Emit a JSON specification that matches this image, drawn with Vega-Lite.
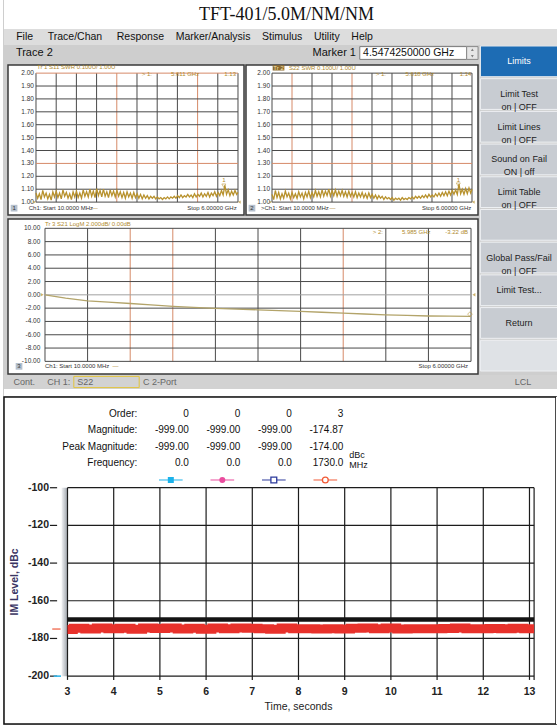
{
"$schema":"https://vega.github.io/schema/vega-lite/v6.json",
"background":"#cecece",
"padding":0,
"spacing":0,
"bounds":"full",
"resolve":{"scale":{"color":"independent","fill":"independent","stroke":"independent","shape":"independent","size":"independent"}},
"config":{"view":{"stroke":null},"font":"Liberation Sans","text":{"font":"Liberation Sans"},"axis":{"labelFont":"Liberation Sans","titleFont":"Liberation Sans"}},
"datasets":{
"swr1":[{"f":0.01,"v":1.07},{"f":0.06,"v":1.03},{"f":0.11,"v":1.065},{"f":0.16,"v":1.02},{"f":0.21,"v":1.09},{"f":0.26,"v":1.04},{"f":0.31,"v":1.07},{"f":0.36,"v":1.025},{"f":0.41,"v":1.06},{"f":0.46,"v":1.015},{"f":0.51,"v":1.08},{"f":0.56,"v":1.04},{"f":0.61,"v":1.085},{"f":0.66,"v":1.035},{"f":0.71,"v":1.07},{"f":0.76,"v":1.025},{"f":0.81,"v":1.095},{"f":0.86,"v":1.045},{"f":0.91,"v":1.075},{"f":0.96,"v":1.03},{"f":1.01,"v":1.065},{"f":1.06,"v":1.02},{"f":1.11,"v":1.08},{"f":1.16,"v":1.04},{"f":1.21,"v":1.085},{"f":1.26,"v":1.035},{"f":1.31,"v":1.07},{"f":1.36,"v":1.03},{"f":1.41,"v":1.095},{"f":1.46,"v":1.045},{"f":1.51,"v":1.08},{"f":1.56,"v":1.04},{"f":1.61,"v":1.1},{"f":1.66,"v":1.045},{"f":1.71,"v":1.085},{"f":1.76,"v":1.035},{"f":1.81,"v":1.105},{"f":1.86,"v":1.05},{"f":1.91,"v":1.09},{"f":1.96,"v":1.04},{"f":2.01,"v":1.1},{"f":2.06,"v":1.045},{"f":2.11,"v":1.08},{"f":2.16,"v":1.035},{"f":2.21,"v":1.095},{"f":2.26,"v":1.05},{"f":2.31,"v":1.085},{"f":2.36,"v":1.04},{"f":2.41,"v":1.09},{"f":2.46,"v":1.045},{"f":2.51,"v":1.08},{"f":2.56,"v":1.035},{"f":2.61,"v":1.075},{"f":2.66,"v":1.03},{"f":2.71,"v":1.08},{"f":2.76,"v":1.04},{"f":2.81,"v":1.07},{"f":2.86,"v":1.03},{"f":2.91,"v":1.075},{"f":2.96,"v":1.035},{"f":3.01,"v":1.065},{"f":3.06,"v":1.03},{"f":3.11,"v":1.06},{"f":3.16,"v":1.025},{"f":3.21,"v":1.055},{"f":3.26,"v":1.03},{"f":3.31,"v":1.05},{"f":3.36,"v":1.025},{"f":3.41,"v":1.045},{"f":3.46,"v":1.03},{"f":3.51,"v":1.045},{"f":3.56,"v":1.025},{"f":3.61,"v":1.04},{"f":3.66,"v":1.025},{"f":3.71,"v":1.035},{"f":3.76,"v":1.02},{"f":3.81,"v":1.035},{"f":3.86,"v":1.025},{"f":3.91,"v":1.04},{"f":3.96,"v":1.025},{"f":4.01,"v":1.04},{"f":4.06,"v":1.03},{"f":4.11,"v":1.045},{"f":4.16,"v":1.03},{"f":4.21,"v":1.05},{"f":4.26,"v":1.035},{"f":4.31,"v":1.055},{"f":4.36,"v":1.035},{"f":4.41,"v":1.05},{"f":4.46,"v":1.04},{"f":4.51,"v":1.06},{"f":4.56,"v":1.04},{"f":4.61,"v":1.055},{"f":4.66,"v":1.035},{"f":4.71,"v":1.065},{"f":4.76,"v":1.04},{"f":4.81,"v":1.06},{"f":4.86,"v":1.045},{"f":4.91,"v":1.07},{"f":4.96,"v":1.04},{"f":5.01,"v":1.065},{"f":5.06,"v":1.045},{"f":5.11,"v":1.075},{"f":5.16,"v":1.04},{"f":5.21,"v":1.07},{"f":5.26,"v":1.05},{"f":5.31,"v":1.08},{"f":5.36,"v":1.045},{"f":5.41,"v":1.075},{"f":5.46,"v":1.05},{"f":5.51,"v":1.09},{"f":5.56,"v":1.055},{"f":5.61,"v":1.13},{"f":5.66,"v":1.06},{"f":5.71,"v":1.095},{"f":5.76,"v":1.05},{"f":5.81,"v":1.085},{"f":5.86,"v":1.055},{"f":5.91,"v":1.09},{"f":5.96,"v":1.06},{"f":6.0,"v":1.075}],
"swr2":[{"f":0.01,"v":1.06},{"f":0.06,"v":1.02},{"f":0.11,"v":1.09},{"f":0.16,"v":1.035},{"f":0.21,"v":1.075},{"f":0.26,"v":1.025},{"f":0.31,"v":1.065},{"f":0.36,"v":1.03},{"f":0.41,"v":1.085},{"f":0.46,"v":1.04},{"f":0.51,"v":1.07},{"f":0.56,"v":1.025},{"f":0.61,"v":1.075},{"f":0.66,"v":1.035},{"f":0.71,"v":1.065},{"f":0.76,"v":1.03},{"f":0.81,"v":1.08},{"f":0.86,"v":1.04},{"f":0.91,"v":1.07},{"f":0.96,"v":1.025},{"f":1.01,"v":1.075},{"f":1.06,"v":1.04},{"f":1.11,"v":1.085},{"f":1.16,"v":1.035},{"f":1.21,"v":1.075},{"f":1.26,"v":1.04},{"f":1.31,"v":1.09},{"f":1.36,"v":1.045},{"f":1.41,"v":1.08},{"f":1.46,"v":1.04},{"f":1.51,"v":1.095},{"f":1.56,"v":1.045},{"f":1.61,"v":1.085},{"f":1.66,"v":1.05},{"f":1.71,"v":1.1},{"f":1.76,"v":1.045},{"f":1.81,"v":1.09},{"f":1.86,"v":1.05},{"f":1.91,"v":1.095},{"f":1.96,"v":1.045},{"f":2.01,"v":1.085},{"f":2.06,"v":1.05},{"f":2.11,"v":1.09},{"f":2.16,"v":1.045},{"f":2.21,"v":1.08},{"f":2.26,"v":1.04},{"f":2.31,"v":1.085},{"f":2.36,"v":1.045},{"f":2.41,"v":1.075},{"f":2.46,"v":1.04},{"f":2.51,"v":1.08},{"f":2.56,"v":1.035},{"f":2.61,"v":1.07},{"f":2.66,"v":1.04},{"f":2.71,"v":1.075},{"f":2.76,"v":1.035},{"f":2.81,"v":1.065},{"f":2.86,"v":1.03},{"f":2.91,"v":1.07},{"f":2.96,"v":1.035},{"f":3.01,"v":1.06},{"f":3.06,"v":1.03},{"f":3.11,"v":1.055},{"f":3.16,"v":1.025},{"f":3.21,"v":1.05},{"f":3.26,"v":1.03},{"f":3.31,"v":1.045},{"f":3.36,"v":1.02},{"f":3.41,"v":1.04},{"f":3.46,"v":1.025},{"f":3.51,"v":1.035},{"f":3.56,"v":1.02},{"f":3.61,"v":1.035},{"f":3.66,"v":1.015},{"f":3.71,"v":1.03},{"f":3.76,"v":1.02},{"f":3.81,"v":1.03},{"f":3.86,"v":1.015},{"f":3.91,"v":1.035},{"f":3.96,"v":1.02},{"f":4.01,"v":1.03},{"f":4.06,"v":1.02},{"f":4.11,"v":1.035},{"f":4.16,"v":1.025},{"f":4.21,"v":1.04},{"f":4.26,"v":1.025},{"f":4.31,"v":1.045},{"f":4.36,"v":1.03},{"f":4.41,"v":1.045},{"f":4.46,"v":1.03},{"f":4.51,"v":1.05},{"f":4.56,"v":1.035},{"f":4.61,"v":1.055},{"f":4.66,"v":1.035},{"f":4.71,"v":1.06},{"f":4.76,"v":1.04},{"f":4.81,"v":1.055},{"f":4.86,"v":1.04},{"f":4.91,"v":1.065},{"f":4.96,"v":1.045},{"f":5.01,"v":1.07},{"f":5.06,"v":1.045},{"f":5.11,"v":1.075},{"f":5.16,"v":1.05},{"f":5.21,"v":1.08},{"f":5.26,"v":1.05},{"f":5.31,"v":1.085},{"f":5.36,"v":1.055},{"f":5.41,"v":1.09},{"f":5.46,"v":1.06},{"f":5.51,"v":1.095},{"f":5.56,"v":1.06},{"f":5.61,"v":1.14},{"f":5.66,"v":1.065},{"f":5.71,"v":1.1},{"f":5.76,"v":1.06},{"f":5.81,"v":1.105},{"f":5.86,"v":1.065},{"f":5.91,"v":1.11},{"f":5.96,"v":1.07},{"f":6.0,"v":1.1}],
"s21":[{"f":0.01,"v":0},{"f":0.3,"v":-0.5},{"f":0.61,"v":-0.9},{"f":0.9,"v":-1.1},{"f":1.21,"v":-1.3},{"f":1.5,"v":-1.5},{"f":1.81,"v":-1.72},{"f":2.1,"v":-1.9},{"f":2.41,"v":-2.05},{"f":2.7,"v":-2.15},{"f":3.0,"v":-2.25},{"f":3.3,"v":-2.38},{"f":3.6,"v":-2.5},{"f":3.9,"v":-2.62},{"f":4.2,"v":-2.75},{"f":4.5,"v":-2.88},{"f":4.8,"v":-3.0},{"f":5.1,"v":-3.1},{"f":5.4,"v":-3.18},{"f":5.7,"v":-3.2},{"f":6.0,"v":-3.25}],
"pim":[{"t":3.0,"v":-175.2},{"t":3.25,"v":-174.6},{"t":3.5,"v":-175.0},{"t":3.75,"v":-174.4},{"t":4.0,"v":-174.8},{"t":4.25,"v":-174.6},{"t":4.5,"v":-175.1},{"t":4.75,"v":-174.5},{"t":5.0,"v":-174.7},{"t":5.25,"v":-174.4},{"t":5.5,"v":-175.0},{"t":5.75,"v":-174.6},{"t":6.0,"v":-175.1},{"t":6.25,"v":-174.5},{"t":6.5,"v":-174.9},{"t":6.75,"v":-174.4},{"t":7.0,"v":-174.6},{"t":7.25,"v":-174.9},{"t":7.5,"v":-175.1},{"t":7.75,"v":-174.4},{"t":8.0,"v":-174.8},{"t":8.25,"v":-174.9},{"t":8.5,"v":-175.0},{"t":8.75,"v":-174.9},{"t":9.0,"v":-175.0},{"t":9.25,"v":-174.6},{"t":9.5,"v":-174.5},{"t":9.75,"v":-174.9},{"t":10.0,"v":-174.4},{"t":10.25,"v":-175.0},{"t":10.5,"v":-174.8},{"t":10.75,"v":-174.9},{"t":11.0,"v":-174.8},{"t":11.25,"v":-174.7},{"t":11.5,"v":-174.4},{"t":11.75,"v":-174.8},{"t":12.0,"v":-174.9},{"t":12.25,"v":-174.7},{"t":12.5,"v":-174.8},{"t":12.75,"v":-174.6},{"t":13.0,"v":-174.8},{"t":13.1,"v":-174.8}],
"swrH1":[{"v":1.0,"g":"d","lab":"1.00"},{"v":1.1,"g":"d","lab":"1.10"},{"v":1.2,"g":"d","lab":"1.20"},{"v":1.3,"g":"s","lab":"1.30"},{"v":1.4,"g":"d","lab":"1.40"},{"v":1.5,"g":"d","lab":"1.50"},{"v":1.6,"g":"d","lab":"1.60"},{"v":1.7,"g":"d","lab":"1.70"},{"v":1.8,"g":"d","lab":"1.80"},{"v":1.9,"g":"d","lab":"1.90"},{"v":2.0,"g":"s","lab":"2.00"}],
"swrH2":[{"v":1.0,"g":"d","lab":"1.00"},{"v":1.1,"g":"d","lab":"1.10"},{"v":1.2,"g":"d","lab":"1.20"},{"v":1.3,"g":"s","lab":"1.30"},{"v":1.4,"g":"d","lab":"1.40"},{"v":1.5,"g":"d","lab":"1.50"},{"v":1.6,"g":"d","lab":"1.60"},{"v":1.7,"g":"d","lab":"1.70"},{"v":1.8,"g":"d","lab":"1.80"},{"v":1.9,"g":"d","lab":"1.90"},{"v":2.0,"g":"d","lab":"2.00"}],
"s21H":[{"v":-10,"g":"d","lab":"-10.00"},{"v":-8,"g":"d","lab":"-8.00"},{"v":-6,"g":"d","lab":"-6.00"},{"v":-4,"g":"d","lab":"-4.00"},{"v":-2,"g":"d","lab":"-2.00"},{"v":0,"g":"z","lab":"0.00"},{"v":2,"g":"d","lab":"2.00"},{"v":4,"g":"d","lab":"4.00"},{"v":6,"g":"d","lab":"6.00"},{"v":8,"g":"d","lab":"8.00"},{"v":10,"g":"d","lab":"10.00"}],
"pimH":[{"v":-100,"lab":"-100"},{"v":-120,"lab":"-120"},{"v":-140,"lab":"-140"},{"v":-160,"lab":"-160"},{"v":-180,"lab":"-180"},{"v":-200,"lab":"-200"}],
"pimV":[{"t":3,"lab":"3"},{"t":4,"lab":"4"},{"t":5,"lab":"5"},{"t":6,"lab":"6"},{"t":7,"lab":"7"},{"t":8,"lab":"8"},{"t":9,"lab":"9"},{"t":10,"lab":"10"},{"t":11,"lab":"11"},{"t":12,"lab":"12"},{"t":13,"lab":"13"},{"t":13.1,"lab":""}]
},
"hconcat":[
{"width":3,"height":725,"view":{"fill":"white"},"data":{"values":[{}]},"mark":{"type":"point","opacity":0,"size":0,"strokeWidth":0},"encoding":{}},
{"spacing":0,"bounds":"full","resolve":{"scale":{"color":"independent","fill":"independent","stroke":"independent","shape":"independent","size":"independent"}},"vconcat":[
 {"width":554,"height":29,"view":{"fill":"white"},"data":{"values":[{"t":"TFT-401/5.0M/NM/NM"}]},"mark":{"type":"text","font":"Liberation Serif","fontSize":18,"color":"#111","baseline":"middle"},"encoding":{"text":{"field":"t","type":"nominal"},"x":{"datum":51,"type":"quantitative","scale":{"domain":[0,100],"nice":false,"zero":false},"axis":null}}},
 {"width":554,"height":16,"view":{"fill":"#dddddd"},"data":{"values":[{}]},"mark":{"type":"text","align":"left","baseline":"middle","fontSize":10.5,"color":"#111"},"encoding":{"text":{"value":"File\u00a0\u00a0\u00a0\u00a0\u00a0Trace/Chan\u00a0\u00a0\u00a0\u00a0\u00a0Response\u00a0\u00a0\u00a0\u00a0Marker/Analysis\u00a0\u00a0\u00a0\u00a0Stimulus\u00a0\u00a0\u00a0\u00a0Utility\u00a0\u00a0\u00a0\u00a0Help"},"x":{"datum":2.2,"type":"quantitative","scale":{"domain":[0,100],"nice":false,"zero":false},"axis":null}}},
 {"spacing":0,"bounds":"full","resolve":{"scale":{"color":"independent","fill":"independent","stroke":"independent","shape":"independent","size":"independent"}},"hconcat":[
  {"spacing":2,"bounds":"full","vconcat":[
   {"width":475,"height":16,"data":{"values":[{}]},"layer":[
    {"mark":{"type":"rect","fill":"white","stroke":"#7a7a7a","strokeWidth":1},"encoding":{"x":{"datum":74.9,"type":"quantitative","scale":{"domain":[0,100],"nice":false,"zero":false},"axis":null},"x2":{"datum":97.4},"y":{"datum":10,"type":"quantitative","scale":{"domain":[0,100],"nice":false,"zero":false},"axis":null},"y2":{"datum":90}}},
    {"mark":{"type":"rect","fill":"#e6e6e6","stroke":"#8a8a8a","strokeWidth":1},"encoding":{"x":{"datum":97.4,"type":"quantitative","axis":null},"x2":{"datum":99.8},"y":{"datum":10,"type":"quantitative","axis":null},"y2":{"datum":90}}},
    {"mark":{"type":"point","shape":"triangle-up","filled":true,"color":"#555","size":8},"encoding":{"x":{"datum":98.6,"type":"quantitative","axis":null},"y":{"datum":70,"type":"quantitative","axis":null}}},
    {"mark":{"type":"point","shape":"triangle-down","filled":true,"color":"#555","size":8},"encoding":{"x":{"datum":98.6,"type":"quantitative","axis":null},"y":{"datum":30,"type":"quantitative","axis":null}}},
    {"mark":{"type":"text","align":"left","baseline":"middle","fontSize":11,"color":"#111"},"encoding":{"x":{"datum":2.5,"type":"quantitative","axis":null},"y":{"datum":50,"type":"quantitative","axis":null},"text":{"value":"Trace 2"}}},
    {"mark":{"type":"text","align":"right","baseline":"middle","fontSize":11,"color":"#111"},"encoding":{"x":{"datum":74.1,"type":"quantitative","axis":null},"y":{"datum":50,"type":"quantitative","axis":null},"text":{"value":"Marker 1"}}},
    {"mark":{"type":"text","align":"left","baseline":"middle","fontSize":10.5,"color":"#111"},"encoding":{"x":{"datum":75.6,"type":"quantitative","axis":null},"y":{"datum":50,"type":"quantitative","axis":null},"text":{"value":"4.5474250000 GHz"}}}
   ]},
   {"spacing":2,"bounds":"flush","hconcat":[
    {"width":2,"height":150,"data":{"values":[{}]},"mark":{"type":"point","opacity":0,"size":0,"strokeWidth":0},"encoding":{}},
    {"width":236,"height":150,"view":{"fill":"white","stroke":"#3a3a3a","strokeWidth":1.5},"layer":[
     {"data":{"values":[{"f":0.01,"g":"d"},{"f":0.609,"g":"d"},{"f":1.208,"g":"d"},{"f":1.807,"g":"d"},{"f":2.406,"g":"s"},{"f":3.005,"g":"d"},{"f":3.604,"g":"d"},{"f":4.203,"g":"d"},{"f":4.802,"g":"s"},{"f":5.401,"g":"d"},{"f":6.0,"g":"d"}]},"mark":{"type":"rule","strokeWidth":1},"encoding":{"x":{"field":"f","type":"quantitative","scale":{"domain":[-0.82,6.178],"nice":false,"zero":false},"axis":null},"y":{"datum":1.0,"type":"quantitative","scale":{"domain":[0.9,2.063],"nice":false,"zero":false},"axis":null},"y2":{"datum":2.0},"color":{"field":"g","type":"nominal","scale":{"domain":["d","s","z"],"range":["#4a4a4a","#d68a68","#a0a0a0"]},"legend":null}}},
     {"data":{"name":"swrH1"},"mark":{"type":"rule","strokeWidth":1},"encoding":{"y":{"field":"v","type":"quantitative","axis":null},"x":{"datum":0.01,"type":"quantitative","axis":null},"x2":{"datum":6.0},"color":{"field":"g","type":"nominal","legend":null}}},
     {"data":{"name":"swrH1"},"mark":{"type":"text","align":"right","baseline":"middle","fontSize":6.5,"color":"#333"},"encoding":{"y":{"field":"v","type":"quantitative","axis":null},"x":{"datum":-0.05,"type":"quantitative","axis":null},"text":{"field":"lab","type":"nominal"}}},
     {"data":{"name":"swr1"},"mark":{"type":"line","color":"#b8922e","strokeWidth":1.3},"encoding":{"x":{"field":"f","type":"quantitative","axis":null},"y":{"field":"v","type":"quantitative","axis":null}}},
     {"data":{"values":[{"f":-0.03,"v":1.0}]},"mark":{"type":"point","shape":"triangle-right","filled":true,"color":"#b8922e","size":10},"encoding":{"x":{"field":"f","type":"quantitative","axis":null},"y":{"field":"v","type":"quantitative","axis":null}}},
     {"data":{"values":[{"f":6.04,"v":1.0}]},"mark":{"type":"point","shape":"triangle-left","filled":true,"color":"#b8922e","size":10},"encoding":{"x":{"field":"f","type":"quantitative","axis":null},"y":{"field":"v","type":"quantitative","axis":null}}},
     {"data":{"values":[{"f":5.58,"v":1.127}]},"mark":{"type":"point","shape":"triangle-down","filled":false,"color":"#b8922e","size":16,"strokeWidth":0.8},"encoding":{"x":{"field":"f","type":"quantitative","axis":null},"y":{"field":"v","type":"quantitative","axis":null}}},
     {"data":{"values":[{"f":-0.64,"v":0.953}]},"mark":{"type":"square","size":45,"color":"#b5c0cd","opacity":1},"encoding":{"x":{"field":"f","type":"quantitative","axis":null},"y":{"field":"v","type":"quantitative","axis":null}}},
     {"data":{"values":[{"f":0.04,"v":2.045,"txt":"Tr 1  S11 SWR 0.100U/ 1.00U"}]},"mark":{"type":"text","align":"left","baseline":"middle","fontSize":6,"color":"#b08a2e"},"encoding":{"x":{"field":"f","type":"quantitative","axis":null},"y":{"field":"v","type":"quantitative","axis":null},"text":{"field":"txt","type":"nominal"}}},
     {"data":{"values":[{"f":3.3,"v":1.99,"txt":"> 1:"},{"f":4.43,"v":1.99,"txt":"5.611 GHz"},{"f":5.58,"v":1.168,"txt":"1"},{"f":1.75,"v":0.953,"txt":"\u2014"}]},"mark":{"type":"text","align":"center","baseline":"middle","fontSize":6,"color":"#b08a2e"},"encoding":{"x":{"field":"f","type":"quantitative","axis":null},"y":{"field":"v","type":"quantitative","axis":null},"text":{"field":"txt","type":"nominal"}}},
     {"data":{"values":[{"f":5.94,"v":1.99,"txt":"1.13"}]},"mark":{"type":"text","align":"right","baseline":"middle","fontSize":6,"color":"#b08a2e"},"encoding":{"x":{"field":"f","type":"quantitative","axis":null},"y":{"field":"v","type":"quantitative","axis":null},"text":{"field":"txt","type":"nominal"}}},
     {"data":{"values":[{"f":-0.206,"v":0.953,"txt":"Ch1: Start  10.0000 MHz"}]},"mark":{"type":"text","align":"left","baseline":"middle","fontSize":6,"color":"#333"},"encoding":{"x":{"field":"f","type":"quantitative","axis":null},"y":{"field":"v","type":"quantitative","axis":null},"text":{"field":"txt","type":"nominal"}}},
     {"data":{"values":[{"f":-0.64,"v":0.953,"txt":"1"}]},"mark":{"type":"text","align":"center","baseline":"middle","fontSize":6,"color":"#333"},"encoding":{"x":{"field":"f","type":"quantitative","axis":null},"y":{"field":"v","type":"quantitative","axis":null},"text":{"field":"txt","type":"nominal"}}},
     {"data":{"values":[{"f":5.96,"v":0.953,"txt":"Stop  6.00000 GHz"}]},"mark":{"type":"text","align":"right","baseline":"middle","fontSize":6,"color":"#333"},"encoding":{"x":{"field":"f","type":"quantitative","axis":null},"y":{"field":"v","type":"quantitative","axis":null},"text":{"field":"txt","type":"nominal"}}}
    ]},
    {"width":232,"height":150,"view":{"fill":"white","stroke":"#3a3a3a","strokeWidth":1.5},"layer":[
     {"data":{"values":[{"f":0.01,"g":"d"},{"f":0.609,"g":"s"},{"f":1.208,"g":"d"},{"f":1.807,"g":"d"},{"f":2.406,"g":"s"},{"f":3.005,"g":"d"},{"f":3.604,"g":"d"},{"f":4.203,"g":"d"},{"f":4.802,"g":"d"},{"f":5.401,"g":"d"},{"f":6.0,"g":"d"}]},"mark":{"type":"rule","strokeWidth":1},"encoding":{"x":{"field":"f","type":"quantitative","scale":{"domain":[-0.769,6.18],"nice":false,"zero":false},"axis":null},"y":{"datum":1.0,"type":"quantitative","scale":{"domain":[0.9,2.063],"nice":false,"zero":false},"axis":null},"y2":{"datum":2.0},"color":{"field":"g","type":"nominal","scale":{"domain":["d","s","z"],"range":["#4a4a4a","#d68a68","#a0a0a0"]},"legend":null}}},
     {"data":{"name":"swrH2"},"mark":{"type":"rule","strokeWidth":1},"encoding":{"y":{"field":"v","type":"quantitative","axis":null},"x":{"datum":0.01,"type":"quantitative","axis":null},"x2":{"datum":6.0},"color":{"field":"g","type":"nominal","legend":null}}},
     {"data":{"name":"swrH2"},"mark":{"type":"text","align":"right","baseline":"middle","fontSize":6.5,"color":"#333"},"encoding":{"y":{"field":"v","type":"quantitative","axis":null},"x":{"datum":-0.05,"type":"quantitative","axis":null},"text":{"field":"lab","type":"nominal"}}},
     {"data":{"name":"swr2"},"mark":{"type":"line","color":"#b8922e","strokeWidth":1.3},"encoding":{"x":{"field":"f","type":"quantitative","axis":null},"y":{"field":"v","type":"quantitative","axis":null}}},
     {"data":{"values":[{"f":-0.03,"v":1.0}]},"mark":{"type":"point","shape":"triangle-right","filled":true,"color":"#b8922e","size":10},"encoding":{"x":{"field":"f","type":"quantitative","axis":null},"y":{"field":"v","type":"quantitative","axis":null}}},
     {"data":{"values":[{"f":6.04,"v":1.0}]},"mark":{"type":"point","shape":"triangle-left","filled":true,"color":"#b8922e","size":10},"encoding":{"x":{"field":"f","type":"quantitative","axis":null},"y":{"field":"v","type":"quantitative","axis":null}}},
     {"data":{"values":[{"f":5.59,"v":1.135}]},"mark":{"type":"point","shape":"triangle-down","filled":false,"color":"#b8922e","size":16,"strokeWidth":0.8},"encoding":{"x":{"field":"f","type":"quantitative","axis":null},"y":{"field":"v","type":"quantitative","axis":null}}},
     {"data":{"values":[{"f":-0.59,"v":0.953}]},"mark":{"type":"square","size":45,"color":"#b5c0cd","opacity":1},"encoding":{"x":{"field":"f","type":"quantitative","axis":null},"y":{"field":"v","type":"quantitative","axis":null}}},
     {"data":{"values":[{}]},"mark":{"type":"rect","fill":"#8c6a2c"},"encoding":{"x":{"datum":0.03,"type":"quantitative","axis":null},"x2":{"datum":0.38},"y":{"datum":2.02,"type":"quantitative","axis":null},"y2":{"datum":2.062}}},
     {"data":{"values":[{"f":0.205,"v":2.043,"txt":"Tr 2"}]},"mark":{"type":"text","align":"center","baseline":"middle","fontSize":6,"color":"#f5e2b0"},"encoding":{"x":{"field":"f","type":"quantitative","axis":null},"y":{"field":"v","type":"quantitative","axis":null},"text":{"field":"txt","type":"nominal"}}},
     {"data":{"values":[{"f":0.52,"v":2.043,"txt":"S22 SWR 0.100U/ 1.00U"}]},"mark":{"type":"text","align":"left","baseline":"middle","fontSize":6,"color":"#b08a2e"},"encoding":{"x":{"field":"f","type":"quantitative","axis":null},"y":{"field":"v","type":"quantitative","axis":null},"text":{"field":"txt","type":"nominal"}}},
     {"data":{"values":[{"f":3.27,"v":1.99,"txt":"> 1:"},{"f":4.44,"v":1.99,"txt":"5.618 GHz"},{"f":5.59,"v":1.168,"txt":"1"},{"f":1.82,"v":0.953,"txt":"\u2014"}]},"mark":{"type":"text","align":"center","baseline":"middle","fontSize":6,"color":"#b08a2e"},"encoding":{"x":{"field":"f","type":"quantitative","axis":null},"y":{"field":"v","type":"quantitative","axis":null},"text":{"field":"txt","type":"nominal"}}},
     {"data":{"values":[{"f":5.98,"v":1.99,"txt":"1.14"}]},"mark":{"type":"text","align":"right","baseline":"middle","fontSize":6,"color":"#b08a2e"},"encoding":{"x":{"field":"f","type":"quantitative","axis":null},"y":{"field":"v","type":"quantitative","axis":null},"text":{"field":"txt","type":"nominal"}}},
     {"data":{"values":[{"f":-0.32,"v":0.953,"txt":">Ch1: Start  10.0000 MHz"}]},"mark":{"type":"text","align":"left","baseline":"middle","fontSize":6,"color":"#333"},"encoding":{"x":{"field":"f","type":"quantitative","axis":null},"y":{"field":"v","type":"quantitative","axis":null},"text":{"field":"txt","type":"nominal"}}},
     {"data":{"values":[{"f":-0.59,"v":0.953,"txt":"2"}]},"mark":{"type":"text","align":"center","baseline":"middle","fontSize":6,"color":"#333"},"encoding":{"x":{"field":"f","type":"quantitative","axis":null},"y":{"field":"v","type":"quantitative","axis":null},"text":{"field":"txt","type":"nominal"}}},
     {"data":{"values":[{"f":5.98,"v":0.953,"txt":"Stop  6.00000 GHz"}]},"mark":{"type":"text","align":"right","baseline":"middle","fontSize":6,"color":"#333"},"encoding":{"x":{"field":"f","type":"quantitative","axis":null},"y":{"field":"v","type":"quantitative","axis":null},"text":{"field":"txt","type":"nominal"}}}
    ]}
   ]},
   {"spacing":2,"bounds":"flush","hconcat":[
    {"width":2,"height":155,"data":{"values":[{}]},"mark":{"type":"point","opacity":0,"size":0,"strokeWidth":0},"encoding":{}},
    {"width":470,"height":155,"view":{"fill":"white","stroke":"#3a3a3a","strokeWidth":1.5},"layer":[
     {"data":{"values":[{"f":0.01,"g":"d"},{"f":0.609,"g":"d"},{"f":1.208,"g":"s"},{"f":1.807,"g":"s"},{"f":2.406,"g":"d"},{"f":3.005,"g":"d"},{"f":3.604,"g":"d"},{"f":4.203,"g":"s"},{"f":4.802,"g":"d"},{"f":5.401,"g":"d"},{"f":6.0,"g":"d"}]},"mark":{"type":"rule"},"encoding":{"x":{"field":"f","type":"quantitative","scale":{"domain":[-0.51,6.098],"nice":false,"zero":false},"axis":null},"y":{"datum":-10,"type":"quantitative","scale":{"domain":[-11.9,11.4],"nice":false,"zero":false},"axis":null},"y2":{"datum":10},"color":{"field":"g","type":"nominal","scale":{"domain":["d","s","z"],"range":["#4a4a4a","#d68a68","#a0a0a0"]},"legend":null},"size":{"field":"g","type":"nominal","scale":{"domain":["d","s","z"],"range":[1,1,2]},"legend":null}}},
     {"data":{"name":"s21H"},"mark":{"type":"rule"},"encoding":{"y":{"field":"v","type":"quantitative","axis":null},"x":{"datum":0.01,"type":"quantitative","axis":null},"x2":{"datum":6.0},"color":{"field":"g","type":"nominal","legend":null},"size":{"field":"g","type":"nominal","legend":null}}},
     {"data":{"name":"s21H"},"mark":{"type":"text","align":"right","baseline":"middle","fontSize":6.5,"color":"#333"},"encoding":{"y":{"field":"v","type":"quantitative","axis":null},"x":{"datum":-0.056,"type":"quantitative","axis":null},"text":{"field":"lab","type":"nominal"}}},
     {"data":{"name":"s21"},"mark":{"type":"line","color":"#b3a46a","strokeWidth":1.3},"encoding":{"x":{"field":"f","type":"quantitative","axis":null},"y":{"field":"v","type":"quantitative","axis":null}}},
     {"data":{"values":[{"f":-0.03,"v":0}]},"mark":{"type":"point","shape":"triangle-right","filled":true,"color":"#b8922e","size":12},"encoding":{"x":{"field":"f","type":"quantitative","axis":null},"y":{"field":"v","type":"quantitative","axis":null}}},
     {"data":{"values":[{"f":6.04,"v":0}]},"mark":{"type":"point","shape":"triangle-left","filled":true,"color":"#b8922e","size":12},"encoding":{"x":{"field":"f","type":"quantitative","axis":null},"y":{"field":"v","type":"quantitative","axis":null}}},
     {"data":{"values":[{"f":5.985,"v":-2.9}]},"mark":{"type":"point","shape":"diamond","filled":false,"color":"#b8922e","size":22,"strokeWidth":0.8},"encoding":{"x":{"field":"f","type":"quantitative","axis":null},"y":{"field":"v","type":"quantitative","axis":null}}},
     {"data":{"values":[{"f":-0.355,"v":-10.75}]},"mark":{"type":"square","size":45,"color":"#b5c0cd","opacity":1},"encoding":{"x":{"field":"f","type":"quantitative","axis":null},"y":{"field":"v","type":"quantitative","axis":null}}},
     {"data":{"values":[{"f":0.01,"v":10.6,"txt":"Tr 3  S21 LogM 2.000dB/ 0.00dB"}]},"mark":{"type":"text","align":"left","baseline":"middle","fontSize":6,"color":"#b08a2e"},"encoding":{"x":{"field":"f","type":"quantitative","axis":null},"y":{"field":"v","type":"quantitative","axis":null},"text":{"field":"txt","type":"nominal"}}},
     {"data":{"values":[{"f":4.69,"v":9.5,"txt":"> 2:"},{"f":5.23,"v":9.5,"txt":"5.985 GHz"},{"f":1.0,"v":-10.75,"txt":"\u2014"}]},"mark":{"type":"text","align":"center","baseline":"middle","fontSize":6,"color":"#b08a2e"},"encoding":{"x":{"field":"f","type":"quantitative","axis":null},"y":{"field":"v","type":"quantitative","axis":null},"text":{"field":"txt","type":"nominal"}}},
     {"data":{"values":[{"f":5.957,"v":9.5,"txt":"-3.22 dB"}]},"mark":{"type":"text","align":"right","baseline":"middle","fontSize":6,"color":"#b08a2e"},"encoding":{"x":{"field":"f","type":"quantitative","axis":null},"y":{"field":"v","type":"quantitative","axis":null},"text":{"field":"txt","type":"nominal"}}},
     {"data":{"values":[{"f":0.01,"v":-10.75,"txt":"Ch1: Start  10.0000 MHz"}]},"mark":{"type":"text","align":"left","baseline":"middle","fontSize":6,"color":"#333"},"encoding":{"x":{"field":"f","type":"quantitative","axis":null},"y":{"field":"v","type":"quantitative","axis":null},"text":{"field":"txt","type":"nominal"}}},
     {"data":{"values":[{"f":-0.355,"v":-10.75,"txt":"3"}]},"mark":{"type":"text","align":"center","baseline":"middle","fontSize":6,"color":"#333"},"encoding":{"x":{"field":"f","type":"quantitative","axis":null},"y":{"field":"v","type":"quantitative","axis":null},"text":{"field":"txt","type":"nominal"}}},
     {"data":{"values":[{"f":5.957,"v":-10.75,"txt":"Stop  6.00000 GHz"}]},"mark":{"type":"text","align":"right","baseline":"middle","fontSize":6,"color":"#333"},"encoding":{"x":{"field":"f","type":"quantitative","axis":null},"y":{"field":"v","type":"quantitative","axis":null},"text":{"field":"txt","type":"nominal"}}}
    ]}
   ]}
  ]},
  {"width":79,"height":327,"data":{"values":[{"k":"k0","lab":["Limits"],"kind":"sel"},{"k":"k1","lab":["Limit Test","on | OFF"],"kind":"n"},{"k":"k2","lab":["Limit Lines","on | OFF"],"kind":"n"},{"k":"k3","lab":["Sound on Fail","ON | off"],"kind":"n"},{"k":"k4","lab":["Limit Table","on | OFF"],"kind":"n"},{"k":"k5","lab":[""],"kind":"n"},{"k":"k6","lab":["Global Pass/Fail","on | OFF"],"kind":"n"},{"k":"k7","lab":["Limit Test..."],"kind":"n"},{"k":"k8","lab":["Return"],"kind":"n"},{"k":"k9","lab":[""],"kind":"e"}]},"layer":[
   {"mark":{"type":"rect","stroke":"#eef0f3","strokeWidth":1},"encoding":{"y":{"field":"k","type":"nominal","scale":{"paddingInner":0.06,"paddingOuter":0.03},"axis":null},"x":{"datum":0.5,"type":"quantitative","scale":{"domain":[0,100],"nice":false,"zero":false},"axis":null},"x2":{"datum":98.5},"fill":{"field":"kind","type":"nominal","scale":{"domain":["sel","n","e"],"range":["#1d6cb4","#c8ccd2","#dfe2e6"]},"legend":null}}},
   {"transform":[{"filter":"datum.kind == 'sel'"}],"mark":{"type":"text","fontSize":9,"color":"white","lineHeight":13,"baseline":"middle"},"encoding":{"y":{"field":"k","type":"nominal","axis":null},"x":{"datum":49.5,"type":"quantitative","axis":null},"text":{"field":"lab","type":"nominal"}}},
   {"transform":[{"filter":"datum.kind != 'sel'"}],"mark":{"type":"text","fontSize":9,"color":"#222","lineHeight":13,"baseline":"middle"},"encoding":{"y":{"field":"k","type":"nominal","axis":null},"x":{"datum":49.5,"type":"quantitative","axis":null},"text":{"field":"lab","type":"nominal"}}}
  ]}
 ]},
 {"width":554,"height":14,"view":{"fill":"#d2d2d2"},"data":{"values":[{}]},"layer":[
  {"mark":{"type":"rect","fill":null,"stroke":"#e2c43e","strokeWidth":1},"encoding":{"x":{"datum":12.6,"type":"quantitative","scale":{"domain":[0,100],"nice":false,"zero":false},"axis":null},"x2":{"datum":24.4},"y":{"datum":10,"type":"quantitative","scale":{"domain":[0,100],"nice":false,"zero":false},"axis":null},"y2":{"datum":90}}},
  {"mark":{"type":"text","align":"left","baseline":"middle","fontSize":9,"color":"#666"},"encoding":{"x":{"datum":1.7,"type":"quantitative","axis":null},"text":{"value":"Cont."}}},
  {"mark":{"type":"text","align":"left","baseline":"middle","fontSize":9,"color":"#666"},"encoding":{"x":{"datum":7.8,"type":"quantitative","axis":null},"text":{"value":"CH 1:"}}},
  {"mark":{"type":"text","align":"left","baseline":"middle","fontSize":9,"color":"#666"},"encoding":{"x":{"datum":13.2,"type":"quantitative","axis":null},"text":{"value":"S22"}}},
  {"mark":{"type":"text","align":"left","baseline":"middle","fontSize":9,"color":"#666"},"encoding":{"x":{"datum":25.1,"type":"quantitative","axis":null},"text":{"value":"C 2-Port"}}},
  {"mark":{"type":"text","align":"center","baseline":"middle","fontSize":9,"color":"#666"},"encoding":{"x":{"datum":93.7,"type":"quantitative","axis":null},"text":{"value":"LCL"}}}
 ]},
 {"width":554,"height":7,"view":{"fill":"white"},"data":{"values":[{}]},"mark":{"type":"point","opacity":0,"size":0,"strokeWidth":0},"encoding":{}},
 {"spacing":0,"bounds":"flush","resolve":{"scale":{"color":"independent","fill":"independent","stroke":"independent","shape":"independent","size":"independent"}},"hconcat":[
  {"width":552,"height":327,"view":{"fill":"white","stroke":"#111","strokeWidth":1.5},"resolve":{"scale":{"x":"independent","y":"independent"}},"layer":[
   {"layer":[
    {"data":{"values":[{}]},"mark":{"type":"rect","fill":{"gradient":"linear","x1":0,"y1":0,"x2":1,"y2":0,"stops":[{"offset":0,"color":"#f2f3f5"},{"offset":1,"color":"#9ea4ab"}]}},"encoding":{"x":{"datum":2.87,"type":"quantitative","scale":{"domain":[1.6255,13.574],"nice":false,"zero":false},"axis":null},"x2":{"datum":3.0},"y":{"datum":-100,"type":"quantitative","scale":{"domain":[-225.4,-51.85],"nice":false,"zero":false},"axis":null},"y2":{"datum":-200}}},
    {"data":{"name":"pimV"},"mark":{"type":"rule","color":"#1c1c1c","strokeWidth":1.2},"encoding":{"x":{"field":"t","type":"quantitative","axis":null},"y":{"datum":-100,"type":"quantitative","axis":null},"y2":{"datum":-202}}},
    {"data":{"name":"pimV"},"mark":{"type":"text","align":"center","baseline":"middle","fontSize":10.5,"fontWeight":"bold","color":"#222"},"encoding":{"x":{"field":"t","type":"quantitative","axis":null},"y":{"datum":-208.5,"type":"quantitative","axis":null},"text":{"field":"lab","type":"nominal"}}},
    {"data":{"name":"pimH"},"mark":{"type":"rule","color":"#1c1c1c","strokeWidth":1.2},"encoding":{"y":{"field":"v","type":"quantitative","axis":null},"x":{"datum":3,"type":"quantitative","axis":null},"x2":{"datum":13.1}}},
    {"data":{"name":"pimH"},"mark":{"type":"rule","color":"#1c1c1c","strokeWidth":1.2},"encoding":{"y":{"field":"v","type":"quantitative","axis":null},"x":{"datum":2.62,"type":"quantitative","axis":null},"x2":{"datum":2.775}}},
    {"data":{"name":"pimH"},"mark":{"type":"text","align":"right","baseline":"middle","fontSize":10.5,"fontWeight":"bold","color":"#222"},"encoding":{"y":{"field":"v","type":"quantitative","axis":null},"x":{"datum":2.6,"type":"quantitative","axis":null},"text":{"field":"lab","type":"nominal"}}},
    {"data":{"values":[{"t":8.0,"v":-216.6,"txt":"Time, seconds"}]},"mark":{"type":"text","align":"center","baseline":"middle","fontSize":10.5,"color":"#222"},"encoding":{"x":{"field":"t","type":"quantitative","axis":null},"y":{"field":"v","type":"quantitative","axis":null},"text":{"field":"txt","type":"nominal"}}},
    {"data":{"values":[{"t":1.864,"v":-150,"txt":"IM Level, dBc"}]},"mark":{"type":"text","align":"center","baseline":"middle","angle":270,"fontSize":10.5,"fontWeight":"bold","color":"#3a3563"},"encoding":{"x":{"field":"t","type":"quantitative","axis":null},"y":{"field":"v","type":"quantitative","axis":null},"text":{"field":"txt","type":"nominal"}}},
    {"data":{"values":[{"v":-170}]},"mark":{"type":"rule","color":"#141414","strokeWidth":4.5},"encoding":{"y":{"field":"v","type":"quantitative","axis":null},"x":{"datum":3,"type":"quantitative","axis":null},"x2":{"datum":13.1}}},
    {"data":{"name":"pim"},"mark":{"type":"line","color":"#e8312b","strokeWidth":9,"interpolate":"step","strokeCap":"butt"},"encoding":{"x":{"field":"t","type":"quantitative","axis":null},"y":{"field":"v","type":"quantitative","axis":null}}},
    {"data":{"values":[{"v":-200}]},"mark":{"type":"rule","color":"#35b6ea","strokeWidth":1.6},"encoding":{"y":{"field":"v","type":"quantitative","axis":null},"x":{"datum":2.7,"type":"quantitative","axis":null},"x2":{"datum":2.86}}},
    {"data":{"values":[{"v":-175}]},"mark":{"type":"rule","color":"#ef5a3c","strokeWidth":1.2},"encoding":{"y":{"field":"v","type":"quantitative","axis":null},"x":{"datum":2.67,"type":"quantitative","axis":null},"x2":{"datum":2.85}}}
   ]},
   {"layer":[
    {"data":{"values":[{"row":0,"col":0,"txt":"Order:"},{"row":0,"col":1,"txt":"0"},{"row":0,"col":2,"txt":"0"},{"row":0,"col":3,"txt":"0"},{"row":0,"col":4,"txt":"3"},{"row":1,"col":0,"txt":"Magnitude:"},{"row":1,"col":1,"txt":"-999.00"},{"row":1,"col":2,"txt":"-999.00"},{"row":1,"col":3,"txt":"-999.00"},{"row":1,"col":4,"txt":"-174.87"},{"row":2,"col":0,"txt":"Peak Magnitude:"},{"row":2,"col":1,"txt":"-999.00"},{"row":2,"col":2,"txt":"-999.00"},{"row":2,"col":3,"txt":"-999.00"},{"row":2,"col":4,"txt":"-174.00"},{"row":3,"col":0,"txt":"Frequency:"},{"row":3,"col":1,"txt":"0.0"},{"row":3,"col":2,"txt":"0.0"},{"row":3,"col":3,"txt":"0.0"},{"row":3,"col":4,"txt":"1730.0"}]},"mark":{"type":"text","align":"right","baseline":"middle","dx":18,"fontSize":10,"color":"#111"},"encoding":{"x":{"field":"col","type":"quantitative","scale":{"domain":[-2.239,8.479],"nice":false,"zero":false},"axis":null},"y":{"field":"row","type":"quantitative","scale":{"domain":[-1.03,18.79],"nice":false,"zero":false,"reverse":true},"axis":null},"text":{"field":"txt","type":"nominal"}}},
    {"data":{"values":[{"row":2.47,"col":4,"txt":"dBc"},{"row":3.1,"col":4,"txt":"MHz"}]},"mark":{"type":"text","align":"left","baseline":"middle","dx":24,"fontSize":9,"color":"#111"},"encoding":{"x":{"field":"col","type":"quantitative","axis":null},"y":{"field":"row","type":"quantitative","axis":null},"text":{"field":"txt","type":"nominal"}}},
    {"data":{"values":[{"row":4,"col":1}]},"mark":{"type":"point","shape":"M-1,0L1,0","size":560,"strokeWidth":1.4,"filled":false,"color":"#1cb2ea"},"encoding":{"x":{"field":"col","type":"quantitative","axis":null},"y":{"field":"row","type":"quantitative","axis":null}}},
    {"data":{"values":[{"row":4,"col":2}]},"mark":{"type":"point","shape":"M-1,0L1,0","size":560,"strokeWidth":1.4,"filled":false,"color":"#ea4c9e"},"encoding":{"x":{"field":"col","type":"quantitative","axis":null},"y":{"field":"row","type":"quantitative","axis":null}}},
    {"data":{"values":[{"row":4,"col":3}]},"mark":{"type":"point","shape":"M-1,0L1,0","size":560,"strokeWidth":1.4,"filled":false,"color":"#2c3a9c"},"encoding":{"x":{"field":"col","type":"quantitative","axis":null},"y":{"field":"row","type":"quantitative","axis":null}}},
    {"data":{"values":[{"row":4,"col":4}]},"mark":{"type":"point","shape":"M-1,0L1,0","size":560,"strokeWidth":1.4,"filled":false,"color":"#f25a36"},"encoding":{"x":{"field":"col","type":"quantitative","axis":null},"y":{"field":"row","type":"quantitative","axis":null}}},
    {"data":{"values":[{"row":4,"col":1}]},"mark":{"type":"point","shape":"square","size":36,"filled":true,"color":"#1cb2ea","opacity":1},"encoding":{"x":{"field":"col","type":"quantitative","axis":null},"y":{"field":"row","type":"quantitative","axis":null}}},
    {"data":{"values":[{"row":4,"col":2}]},"mark":{"type":"point","shape":"circle","size":36,"filled":true,"color":"#ea4c9e","opacity":1},"encoding":{"x":{"field":"col","type":"quantitative","axis":null},"y":{"field":"row","type":"quantitative","axis":null}}},
    {"data":{"values":[{"row":4,"col":3}]},"mark":{"type":"point","shape":"square","size":34,"fill":"white","stroke":"#2c3a9c","strokeWidth":1.3,"opacity":1},"encoding":{"x":{"field":"col","type":"quantitative","axis":null},"y":{"field":"row","type":"quantitative","axis":null}}},
    {"data":{"values":[{"row":4,"col":4}]},"mark":{"type":"point","shape":"circle","size":34,"fill":"white","stroke":"#f25a36","strokeWidth":1.3,"opacity":1},"encoding":{"x":{"field":"col","type":"quantitative","axis":null},"y":{"field":"row","type":"quantitative","axis":null}}}
   ]}
  ]},
  {"width":2,"height":327,"view":{"fill":"white"},"data":{"values":[{}]},"mark":{"type":"point","opacity":0,"size":0,"strokeWidth":0},"encoding":{}}
 ]},
 {"width":554,"height":3,"view":{"fill":"white"},"data":{"values":[{}]},"mark":{"type":"point","opacity":0,"size":0,"strokeWidth":0},"encoding":{}}
]}
]
}
